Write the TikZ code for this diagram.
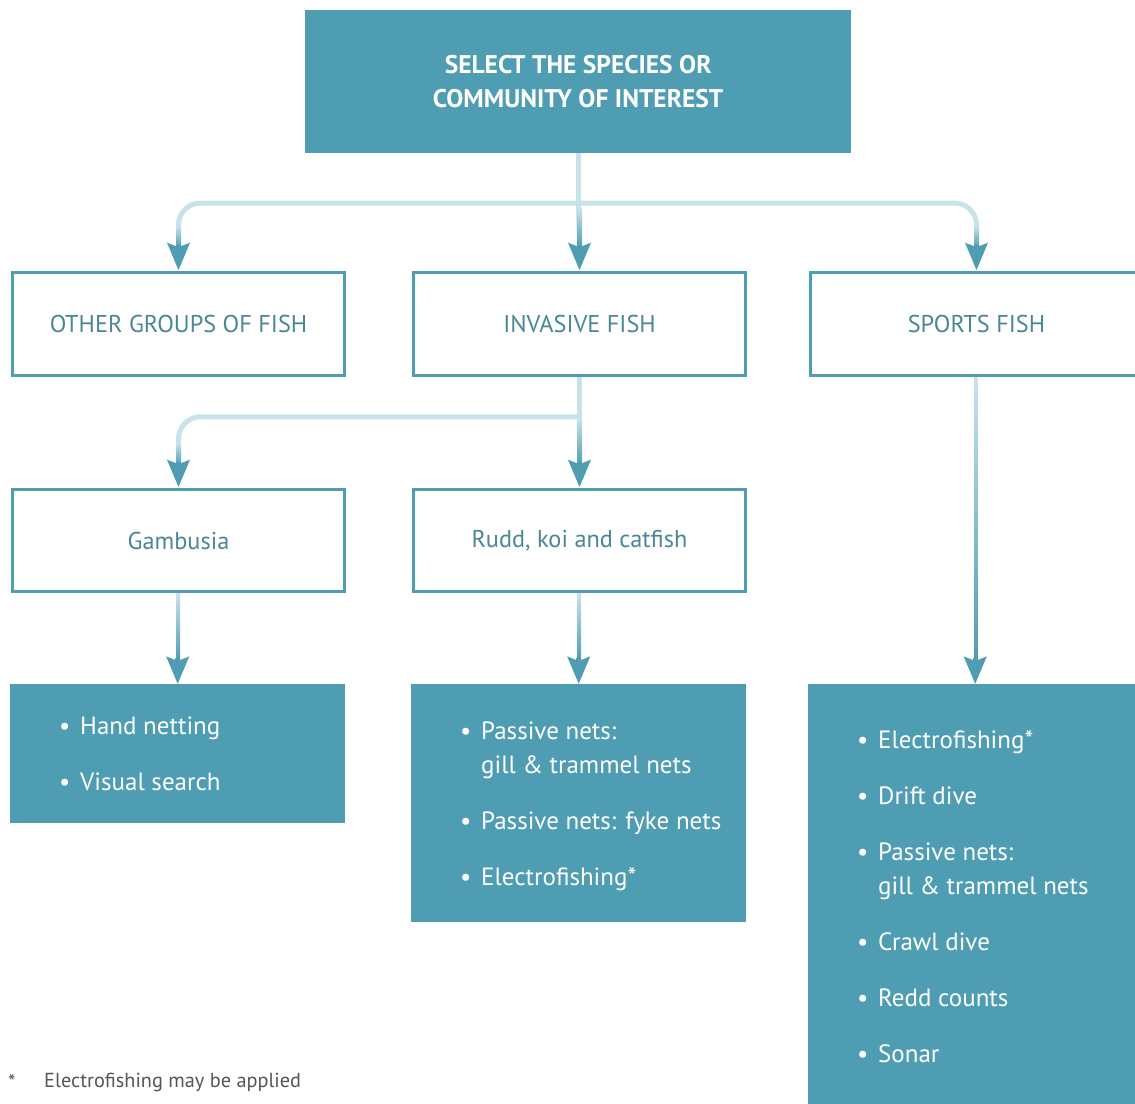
\documentclass[tikz,border=0pt]{standalone}
\usepackage{fontspec}
\setmainfont{PT Sans}
\usetikzlibrary{arrows.meta}
\definecolor{teal1}{HTML}{4F9DB2}
\definecolor{tealtext}{HTML}{4A8796}
\definecolor{lightc}{HTML}{C8E2EA}
\definecolor{foot}{HTML}{555555}
\newcommand\bi{\makebox[21pt][l]{\textbullet}}
\newcommand\ind{\hspace*{21pt}}
\begin{document}
\begin{tikzpicture}[x=1pt,y=-1pt,
  outbox/.style={draw=teal1, line width=2.5pt, fill=white, text=tealtext, minimum width=332pt, minimum height=103pt, anchor=north west, inner sep=0pt, font=\fontsize{24.3}{29}\selectfont},
  fillbox/.style={fill=teal1, draw=none, minimum width=335pt, anchor=north west, inner sep=0pt},
  bul/.style={text=white, anchor=west, align=left, inner sep=0pt, font=\fontsize{25}{34}\selectfont},
  conn/.style={draw=lightc, line width=5pt},
  tipline/.style={draw=teal1, line width=5pt, -{Stealth[length=27pt,width=22pt,inset=4pt]}},
]
\clip (0,0) rectangle (1135,1103);
% boxes
\node[fillbox, minimum width=546pt, minimum height=143pt, text=white, font=\bfseries\fontsize{25.5}{34}\selectfont, align=center] (top) at (305,10) {SELECT THE SPECIES OR\\COMMUNITY OF INTEREST};
\node[outbox] (other) at (11.25,271.25) {OTHER GROUPS OF FISH};
\node[outbox] (inv) at (412.25,271.25) {INVASIVE FISH};
\node[outbox] (sports) at (809.25,271.25) {SPORTS FISH};
\node[outbox, minimum height=102pt] (gamb) at (11.25,488.25) {Gambusia};
\node[outbox, minimum height=102pt] (rudd) at (412.25,488.25) {Rudd, koi and catfish};
\node[fillbox, minimum height=139pt] (f1) at (10,684) {};
\node[fillbox, minimum height=238pt] (f2) at (411,684) {};
\node[fillbox, minimum width=334pt, minimum height=426pt] (f3) at (808,684) {};
% bullet texts
\node[bul] (t1) at ([xshift=49pt]f1.west) {\bi Hand netting\\[22pt]\bi Visual search};
\node[bul] (t2) at ([xshift=49pt,yshift=-3pt]f2.west) {\bi Passive nets:\\\ind gill \& trammel nets\\[22pt]\bi Passive nets: fyke nets\\[22pt]\bi Electrofishing*};
\node[bul] (t3) at ([xshift=49pt,yshift=1pt]f3.west) {\bi Electrofishing*\\[22pt]\bi Drift dive\\[22pt]\bi Passive nets:\\\ind gill \& trammel nets\\[22pt]\bi Crawl dive\\[22pt]\bi Redd counts\\[22pt]\bi Sonar};
% footnote
\node[anchor=base west, inner sep=0pt, text=foot, font=\fontsize{21}{23}\selectfont] (star) at (8,1089) {*};
\node[anchor=base west, inner sep=0pt, text=foot, font=\fontsize{20.3}{23}\selectfont] (fn) at (44,1087) {Electrofishing may be applied};
% connectors level 1
\coordinate (j1) at (top.south |- 0,203);
\draw[conn] (top.south) -- (j1);
\draw[conn, rounded corners=22pt] (j1) -| ([yshift=26pt]other.north);
\draw[conn, rounded corners=22pt] (j1) -| ([yshift=26pt]sports.north);
\draw[conn] (j1) -- ([yshift=26pt]inv.north);
\foreach \n/\s in {other/45, sports/45, inv/63}{
  \shade[top color=lightc, bottom color=teal1] ([xshift=-2.5pt,yshift=\s pt]\n.north) rectangle ([xshift=2.5pt,yshift=24pt]\n.north);
  \draw[tipline] ([yshift=26pt]\n.north) -- ([yshift=1pt]\n.north);
}
% connectors level 2
\coordinate (j2) at ([yshift=-40pt]inv.south);
\draw[conn] (inv.south) -- (j2);
\draw[conn, rounded corners=22pt] (j2) -| ([yshift=26pt]gamb.north);
\draw[conn] (j2) -- ([yshift=26pt]rudd.north);
\foreach \n/\s in {gamb/45, rudd/69}{
  \shade[top color=lightc, bottom color=teal1] ([xshift=-2.5pt,yshift=\s pt]\n.north) rectangle ([xshift=2.5pt,yshift=24pt]\n.north);
  \draw[tipline] ([yshift=26pt]\n.north) -- ([yshift=1pt]\n.north);
}
% connectors level 3
\foreach \a/\b in {gamb/f1, rudd/f2, sports/f3}{
  \shade[top color=lightc, bottom color=teal1] ([xshift=-2.5pt,yshift=-1pt]\a.south) rectangle ([xshift=2.5pt,yshift=24pt]\b.north);
  \draw[tipline] ([yshift=26pt]\b.north) -- (\b.north);
}
\end{tikzpicture}
\end{document}
